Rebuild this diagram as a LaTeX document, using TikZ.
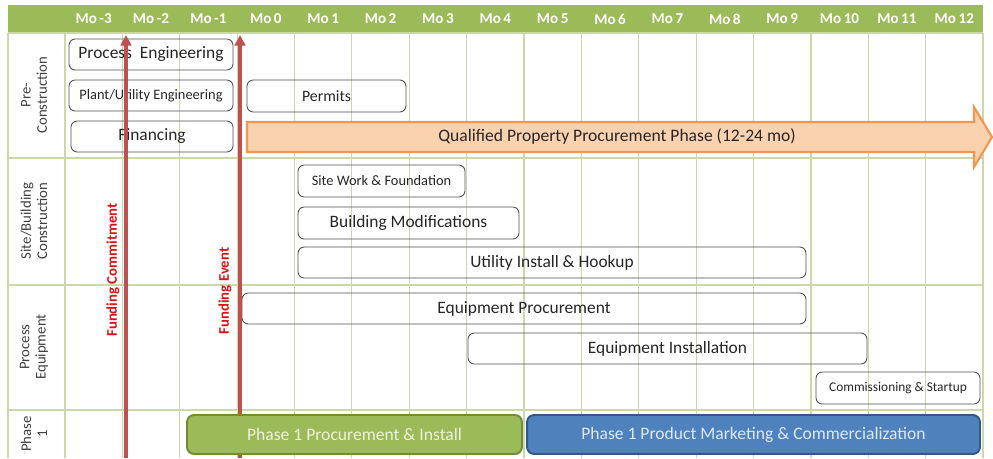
\documentclass[tikz,border=0pt]{standalone}
\usepackage{fontspec}
\setmainfont{Carlito}
\usetikzlibrary{arrows.meta,positioning,calc}

\definecolor{hdrgreen}{RGB}{155,187,89}
\definecolor{gridgreen}{RGB}{203,216,170}
\definecolor{fundred}{RGB}{192,80,77}
\definecolor{fundtxt}{RGB}{226,16,22}
\definecolor{boxgray}{RGB}{80,80,80}
\definecolor{txtdark}{RGB}{38,38,38}
\definecolor{lblgray}{RGB}{64,64,64}
\definecolor{qpfill}{RGB}{251,210,176}
\definecolor{qpdraw}{RGB}{244,150,78}
\definecolor{barfillg}{RGB}{155,187,89}
\definecolor{bardrawg}{RGB}{112,140,56}
\definecolor{bartxtg}{RGB}{236,242,222}
\definecolor{barfillb}{RGB}{79,129,189}
\definecolor{bardrawb}{RGB}{52,88,132}
\definecolor{bartxtb}{RGB}{222,232,244}

\begin{document}
\begin{tikzpicture}[
    x=0.02cm, y=-0.02cm,
    gridline/.style={draw=gridgreen, line width=0.7pt},
    month/.style={text=white, font=\bfseries\fontsize{8.6}{10}\selectfont},
    rowlabel/.style={rotate=90, align=center, text=lblgray,
        font=\fontsize{8.4}{9.2}\selectfont},
    task/.style={draw=boxgray, rounded corners=3.5pt, inner sep=0pt,
        line width=0.5pt, text=txtdark, minimum height=0.62cm,
        font=\fontsize{9.9}{11}\selectfont},
    smalltask/.style={task, font=\fontsize{8.2}{10}\selectfont},
    fundline/.style={draw=fundred, line width=1.8pt,
        -{Triangle[width=6pt,length=6pt]}},
    fundlabel/.style={rotate=90, text=fundtxt,
        font=\bfseries\fontsize{8.4}{10}\selectfont},
    phasebar/.style={rounded corners=4pt, line width=1.1pt, inner sep=0pt,
        minimum height=0.78cm, font=\fontsize{10}{12}\selectfont}
]
\useasboundingbox[fill=white] (0,0) rectangle (993,458);

% -------- Header --------
\fill[hdrgreen] (8,5) rectangle (983,33);
\foreach \m in {-3,...,12}
    \node[month] (mo\m) at ({65+57.375*(\m+3.5)},19) {Mo\,\m};

% -------- Grid --------
\foreach \k in {0,...,16}
    \draw[gridline] ({65+57.375*\k},33) -- ++(0,425);
\draw[gridline] (8,33) -- (8,458);
\foreach \r in {33,158,285,410}
    \draw[gridline] (8,\r) -- (983,\r);

% -------- Row labels --------
\node[rowlabel] (pre)   at (34,95)  {Pre-\\Construction};
\node[rowlabel] (site)  at (34,221) {Site/Building\\Construction};
\node[rowlabel] (proc)  at (34,347) {Process\\Equipment};
\node[rowlabel] (phase) at (34,434) {Phase\\1};

% -------- Tasks --------
\node[task, minimum width=3.28cm] (proceng) at (151,54.5) {Process\ \ Engineering};
\node[smalltask, minimum width=3.28cm] (plantEng) at (151,95.5) {Plant/Utility Engineering};
\node[task, minimum width=3.24cm] (financing) at (152,136.5) {Financing};
\node[task, minimum width=3.18cm, minimum height=0.64cm,
    font=\fontsize{9}{11}\selectfont] (permits) at (326.5,96) {Permits};
\node[smalltask, minimum width=3.34cm, minimum height=0.64cm] (sitework) at (381.5,181) {Site Work \& Foundation};
\node[task, minimum width=4.42cm, minimum height=0.64cm] (buildmod) at (408.5,223) {Building Modifications};
\node[task, minimum width=10.16cm] (utility) at (552,262.5) {Utility Install \& Hookup};
\node[task, minimum width=11.28cm] (eqproc) at (524,308.5) {Equipment Procurement};
\node[task, minimum width=7.98cm] (eqinst) at (667.5,348.5) {Equipment Installation};
\node[task, minimum width=3.28cm, minimum height=0.64cm,
    font=\fontsize{7.6}{9}\selectfont] (commiss) at (898,388) {Commissioning \& Startup};

% -------- Funding milestones --------
\coordinate (fcbot) at (126,458);
\coordinate (fctop) at (126,35);
\coordinate (febot) at (240,458);
\coordinate (fetop) at (240,35);
\draw[fundline] (fcbot) -- (fctop);
\draw[fundline] (febot) -- (fetop);
\node[fundlabel] (fundcommit) at (113,270) {Funding Commitment};
\node[fundlabel] (fundevent)  at (225,291) {Funding Event};

% -------- Procurement phase arrow --------
\draw[fill=qpfill, draw=qpdraw, line width=1.2pt, line join=miter]
    (247,122) -- (974,122) -- (974,107) -- (992,137)
    -- (974,167) -- (974,152) -- (247,152) -- cycle;
\node[text=txtdark, font=\fontsize{10}{12}\selectfont] (qpp) at (617,136)
    {Qualified Property Procurement Phase (12-24 mo)};

% -------- Phase 1 bars --------
\node[phasebar, fill=barfillg, draw=bardrawg, text=bartxtg,
    minimum width=6.70cm] (p1install) at (354.5,434.5) {Phase 1 Procurement \& Install};
\node[phasebar, fill=barfillb, draw=bardrawb, text=bartxtb,
    minimum width=9.06cm] (p1market) at (753.5,434.5) {Phase 1 Product Marketing \& Commercialization};

\end{tikzpicture}
\end{document}
